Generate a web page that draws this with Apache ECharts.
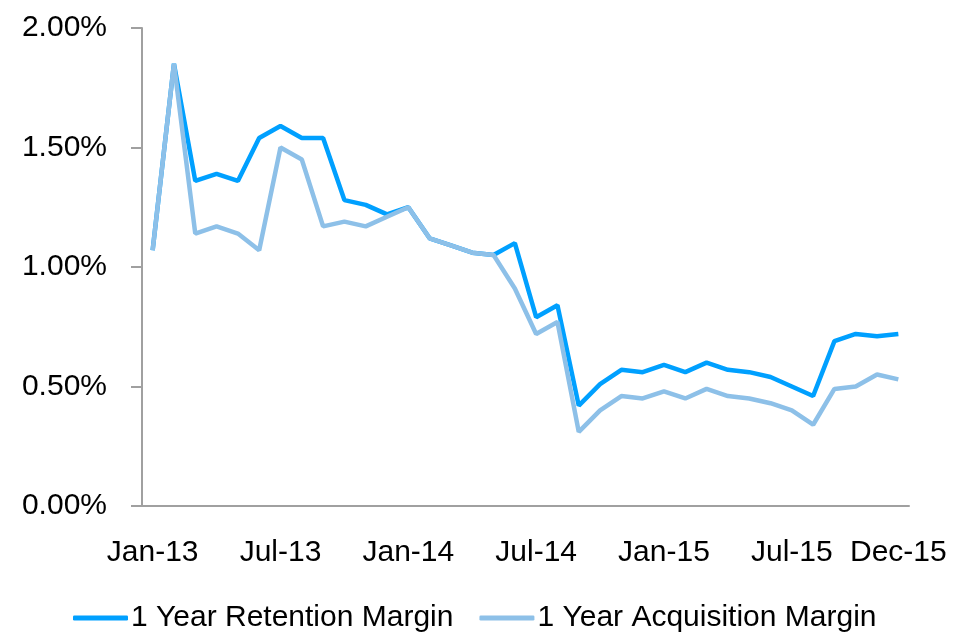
<!DOCTYPE html>
<html>
<head>
<meta charset="utf-8">
<script src="https://cdn.jsdelivr.net/npm/echarts@6/dist/echarts.min.js"></script>
<style>
  html, body { margin: 0; padding: 0; background: #fff; }
  #chart { width: 972px; height: 636px; }
</style>
</head>
<body>
<div id="chart"></div>
<script>
const months = [
  "Jan-13", "Feb-13", "Mar-13", "Apr-13", "May-13", "Jun-13",
  "Jul-13", "Aug-13", "Sep-13", "Oct-13", "Nov-13", "Dec-13",
  "Jan-14", "Feb-14", "Mar-14", "Apr-14", "May-14", "Jun-14",
  "Jul-14", "Aug-14", "Sep-14", "Oct-14", "Nov-14", "Dec-14",
  "Jan-15", "Feb-15", "Mar-15", "Apr-15", "May-15", "Jun-15",
  "Jul-15", "Aug-15", "Sep-15", "Oct-15", "Nov-15", "Dec-15",
];

// values in %
const retention = [
  1.07, 1.85, 1.36, 1.39, 1.36, 1.54, 1.59, 1.54, 1.54, 1.28, 1.26, 1.22,
  1.25, 1.12, 1.09, 1.06, 1.05, 1.10, 0.79, 0.84, 0.42, 0.51, 0.57, 0.56,
  0.59, 0.56, 0.60, 0.57, 0.56, 0.54, 0.50, 0.46, 0.69, 0.72, 0.71, 0.72,
];
const acquisition = [
  1.07, 1.85, 1.14, 1.17, 1.14, 1.07, 1.50, 1.45, 1.17, 1.19, 1.17, 1.21,
  1.25, 1.12, 1.09, 1.06, 1.05, 0.91, 0.72, 0.77, 0.31, 0.40, 0.46, 0.45,
  0.48, 0.45, 0.49, 0.46, 0.45, 0.43, 0.40, 0.34, 0.49, 0.50, 0.55, 0.53,
];

const font = "'Liberation Sans', Arial, sans-serif";
const axisGray = "#a0a0a0";

const chart = echarts.init(document.getElementById("chart"));
chart.setOption({
  animation: false,
  textStyle: { fontFamily: font },
  legend: {
    data: ["1 Year Retention Margin", "1 Year Acquisition Margin"],
    left: 68,
    top: 598,
    icon: "roundRect",
    itemWidth: 55,
    itemHeight: 5,
    itemGap: 26,
    textStyle: { fontSize: 30, color: "#000", fontFamily: font, padding: [0, 0, 0, -2] },
  },
  grid: { left: 142, right: 63, top: 28, bottom: 130, containLabel: false },
  xAxis: {
    type: "category",
    data: months,
    boundaryGap: true,
    axisLine: { lineStyle: { color: axisGray, width: 2 } },
    axisTick: {
      interval: (i) => i % 6 === 0,
      length: 11,
      lineStyle: { color: axisGray, width: 2 },
    },
    axisLabel: {
      interval: (i) => i % 6 === 0 || i === 35,
      margin: 32,
      fontSize: 30,
      color: "#000",
      fontFamily: font,
    },
    splitLine: { show: false },
  },
  yAxis: {
    type: "value",
    min: 0,
    max: 2,
    interval: 0.5,
    axisLine: { show: true, lineStyle: { color: axisGray, width: 2 } },
    axisTick: { show: true, length: 11, lineStyle: { color: axisGray, width: 2 } },
    axisLabel: {
      margin: 35,
      fontSize: 30,
      color: "#000",
      fontFamily: font,
      formatter: (v) => v.toFixed(2) + "%",
    },
    splitLine: { show: false },
  },
  series: [
    {
      name: "1 Year Retention Margin",
      type: "line",
      data: retention,
      symbol: "none",
      color: "#00a0ff",
      lineStyle: { width: 4.5, color: "#00a0ff" },
    },
    {
      name: "1 Year Acquisition Margin",
      type: "line",
      data: acquisition,
      symbol: "none",
      color: "#8dc0e8",
      lineStyle: { width: 4.5, color: "#8dc0e8" },
    },
  ],
});
</script>
</body>
</html>
